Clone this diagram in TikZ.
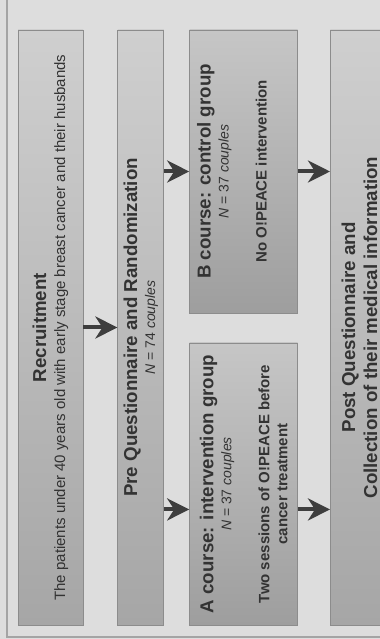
\documentclass[tikz,border=0pt]{standalone}
\usepackage{fontspec}
\setmainfont{Liberation Sans}
\usepackage{xcolor}
\usepackage{tikz}
\usetikzlibrary{arrows.meta,positioning,calc}
\definecolor{panelgray}{HTML}{DDDDDD}
\definecolor{framegray}{HTML}{A4A4A4}
\definecolor{boxtop}{HTML}{CFCFCF}
\definecolor{boxbot}{HTML}{A6A6A6}
\definecolor{grptop}{HTML}{C6C6C6}
\definecolor{grpbot}{HTML}{9E9E9E}
\definecolor{inkgray}{HTML}{333333}
\definecolor{arrowgray}{HTML}{3E3E3E}
\newcommand{\ttl}{\fontsize{9.35}{9}\selectfont\bfseries}
\newcommand{\txt}{\fontsize{7.5}{9}\selectfont}
\newcommand{\nsz}{\fontsize{7}{9}\selectfont}

\begin{document}
\begin{tikzpicture}[
  x=0.5pt, y=0.5pt,
  rotate=90, transform shape,
  box/.style={draw=black!45, line width=0.4pt, top color=boxtop, bottom color=boxbot, text=inkgray, align=center, inner sep=0pt, font=\txt},
  grp/.style={box, top color=grptop, bottom color=grpbot},
  flow/.style={->, draw=arrowgray, line width=2pt},
  >={Stealth[length=11pt, width=11pt, inset=3.5pt]},
]
\useasboundingbox (0,0) rectangle (639,-380);
\clip (0,0) rectangle (639,-380);
\fill[panelgray] (0,0) rectangle (639,-380);
\draw[framegray, line width=0.8pt] (2,-7) rectangle (700,-450);

\node[box, minimum width=297.5pt, minimum height=32.5pt] (rec) at (311.5,-50.5) {{\ttl Recruitment}\\[0.5pt] The patients under 40 years old with early stage breast cancer and their husbands};
\node[box, minimum width=297.5pt, minimum height=23pt, below=17pt of rec] (pre) {{\ttl Pre Questionnaire and Randomization}\\ {\nsz\textit{N} = 74 \textit{couples}}};
\node[grp, minimum width=141pt, minimum height=54pt, below right=12.5pt and 0pt of pre.south west] (acourse) {{\ttl A course: intervention group}\\ {\nsz\textit{N} = 37 \textit{couples}}\\[10pt] {\bfseries Two sessions of O!PEACE before}\\ {\bfseries cancer treatment}};
\node[grp, minimum width=141.5pt, minimum height=54pt, below left=12.5pt and 0pt of pre.south east] (bcourse) {{\ttl B course: control group}\\ {\nsz\textit{N} = 37 \textit{couples}}\\[10pt] {\bfseries No O!PEACE intervention}\\ \strut};
\node[box, minimum width=297.5pt, minimum height=29pt, below right=16pt and 0pt of acourse.south west] (post) {{\ttl Post Questionnaire and}\\[2pt] {\ttl Collection of their medical information}};

\coordinate (ain) at ($(acourse.north west)!.41!(acourse.north east)$);
\coordinate (aout) at ($(acourse.south west)!.41!(acourse.south east)$);
\draw[flow] (rec.south) -- (pre.north);
\draw[flow] ($(pre.south west)!(ain)!(pre.south east)$) -- (ain);
\draw[flow] ($(pre.south west)!(bcourse.north)!(pre.south east)$) -- (bcourse.north);
\draw[flow] (aout) -- ($(post.north west)!(aout)!(post.north east)$);
\draw[flow] (bcourse.south) -- ($(post.north west)!(bcourse.south)!(post.north east)$);
\end{tikzpicture}
\end{document}
